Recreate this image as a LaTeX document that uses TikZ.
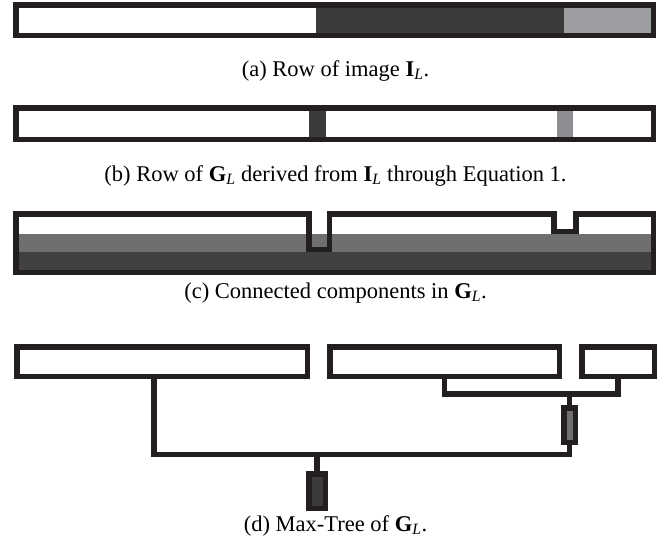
\documentclass[tikz,border=0pt]{standalone}
\usepackage{fontspec}
\setmainfont{Liberation Serif}
\usepackage{xcolor}
\usepackage{tikz}
\usetikzlibrary{calc}
\definecolor{ink}{HTML}{231F20}
\definecolor{darkpx}{HTML}{3B3B3C}
\definecolor{lightpx}{HTML}{9D9EA2}
\definecolor{midpx}{HTML}{6F6F72}
\definecolor{deeppx}{HTML}{414143}
\newcommand{\boldsub}[2]{\textbf{#1}\textsubscript{\textit{#2}}}
\tikzset{
  frame/.style={draw=ink, line width=5.5pt, line join=miter},
  comp/.style={draw=ink, fill=white, line width=5.5pt, inner sep=0pt, minimum height=29.5pt},
  leaf/.style={draw=ink, line width=5.5pt, inner sep=0pt, minimum width=11.5pt, minimum height=34.5pt},
  link/.style={draw=ink, line width=5.5pt, line join=miter},
  captext/.style={text=black, font=\fontsize{22.5}{26}\selectfont, inner sep=0pt},
}

\begin{document}
\begin{tikzpicture}[x=1pt,y=-1pt]
  \useasboundingbox (0,0) rectangle (671,547);
  % (a) row of the image
  \fill[white] (16,5) rectangle (316,35);
  \fill[darkpx] (316,5) rectangle (564,35);
  \fill[lightpx] (564,5) rectangle (653,35);
  \draw[frame] (15.75,4.75) rectangle (653.25,35.25);
  \node[captext] (capa) at (335.5,71) {(a) Row of image \boldsub{I}{L}.};
  % (b) gradient row
  \fill[darkpx] (309,108) rectangle (326,139);
  \fill[lightpx!90!black] (557,108) rectangle (573,139);
  \draw[frame] (15.75,107.75) rectangle (653.25,139.25);
  \node[captext] (capb) at (335.5,176) {(b) Row of \boldsub{G}{L} derived from \boldsub{I}{L} through Equation 1.};
  % (c) components
  \fill[midpx] (16,234.3) rectangle (653,252.3);
  \fill[deeppx] (16,252.3) rectangle (653,272);
  \draw[frame] (15.75,213.75) -- (308.75,213.75) -- (308.75,249.25) -- (329.25,249.25)
    -- (329.25,213.75) -- (553.75,213.75) -- (553.75,231.25) -- (575.85,231.25)
    -- (575.85,213.75) -- (653.25,213.75) -- (653.25,272.25) -- (15.75,272.25) -- cycle;
  \node[captext] (capc) at (335.5,293) {(c) Connected components in \boldsub{G}{L}.};
  % (d) max-tree
  \node[comp, minimum width=290.5pt] (box1) at (162,361.5) {};
  \node[comp, minimum width=229.5pt] (box2) at (444.5,361.5) {};
  \node[comp, minimum width=72.5pt] (box3) at (618,361.5) {};
  \node[leaf, fill=midpx] (mid) at (569.5,425) {};
  \node[leaf, fill=darkpx, minimum width=16.5pt] (root) at (317,491) {};
  \coordinate (j1) at (569.5,394);
  \coordinate (j2) at (317,454.5);
  \draw[link] (box2.south) |- (j1) -| (box3.south);
  \draw[link] (j1) -- (mid.north);
  \draw[link] ([xshift=-8pt]box1.south) |- (j2) -| (mid.south);
  \draw[link] (j2) -- (root.north);
  \node[captext] (capd) at (335.5,526) {(d) Max-Tree of \boldsub{G}{L}.};
\end{tikzpicture}
\end{document}
